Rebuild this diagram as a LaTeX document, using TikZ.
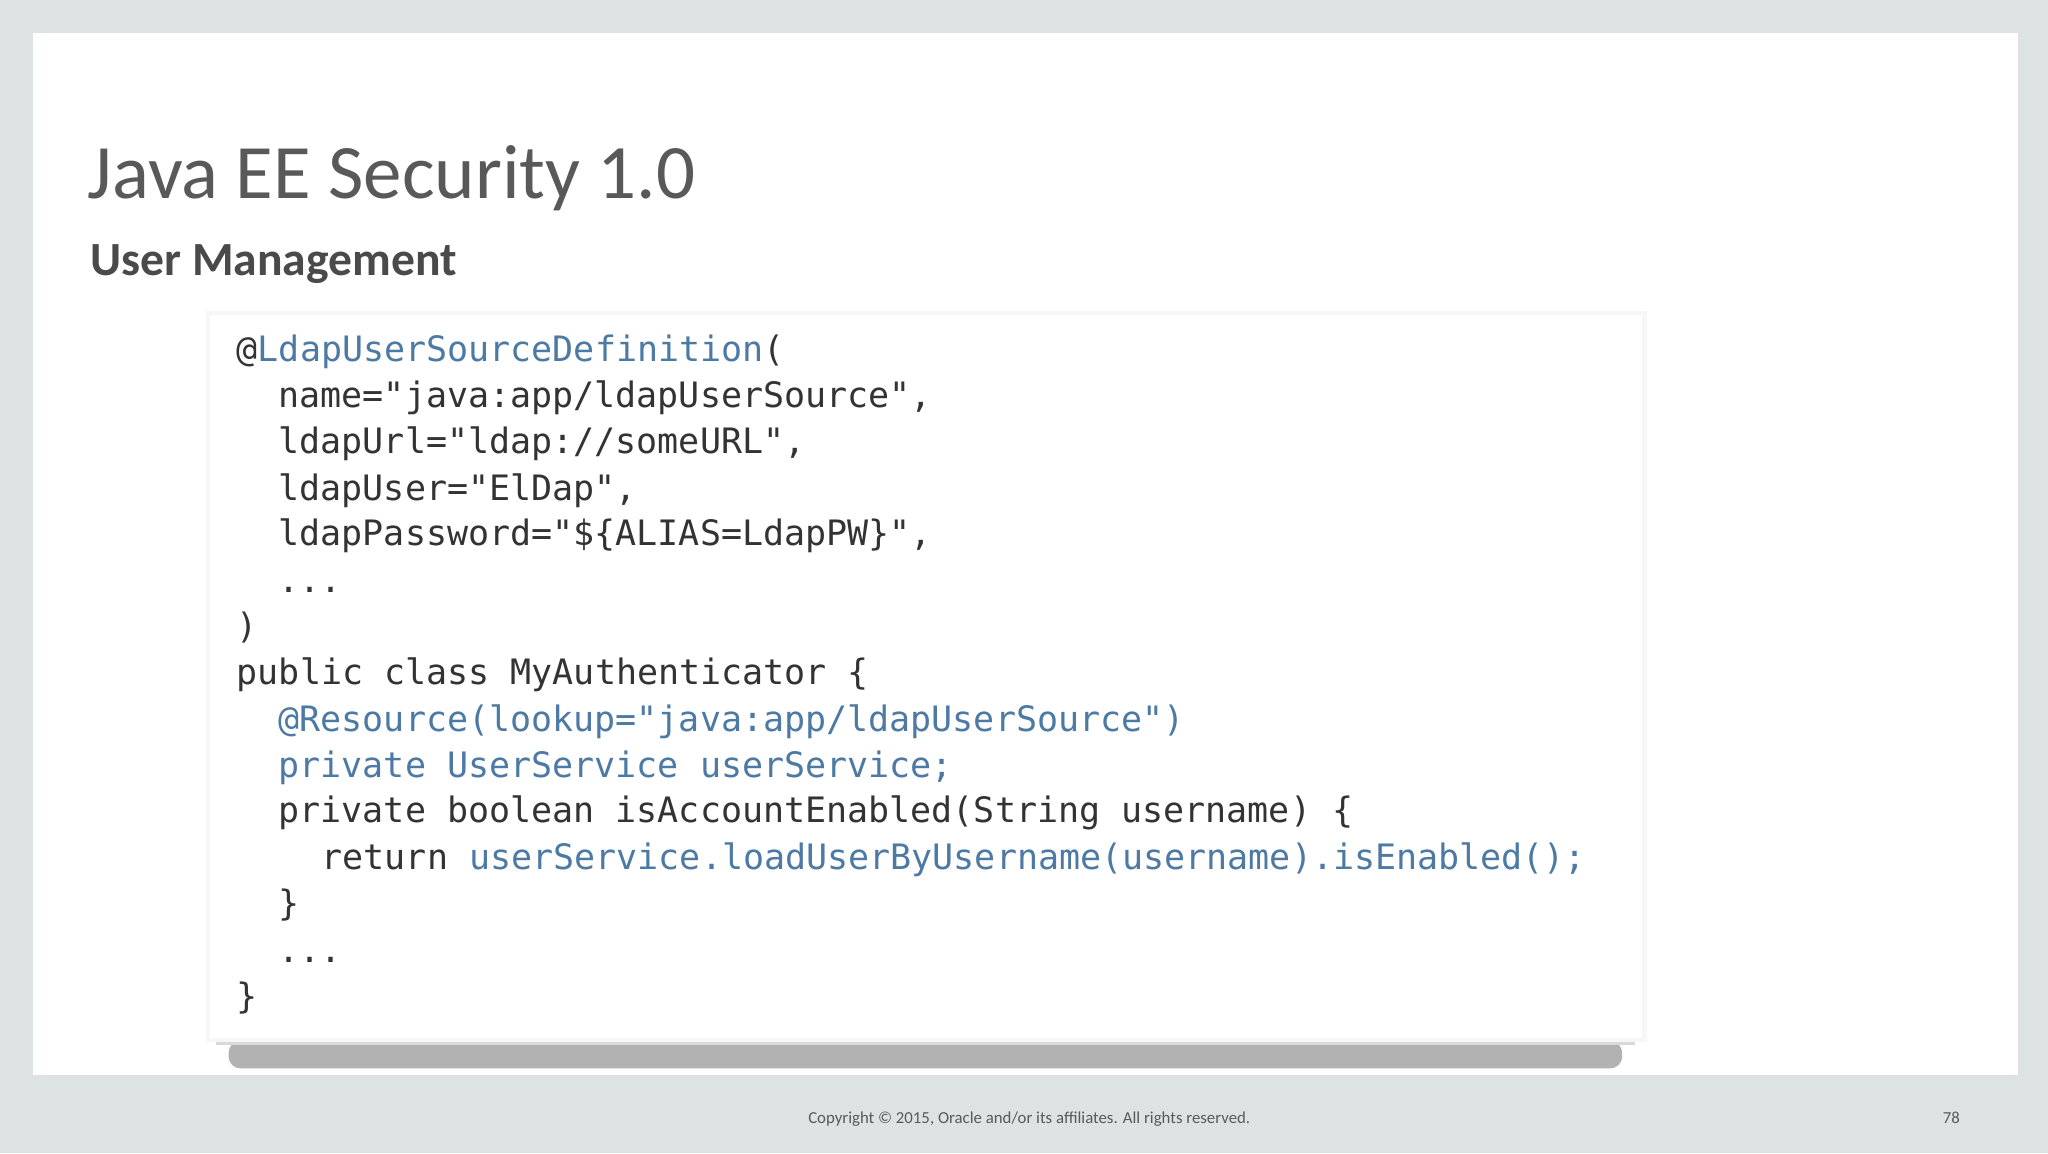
\documentclass[tikz,border=0pt]{standalone}
\usepackage{fontspec}
\setmainfont{Carlito}
\newfontfamily\codefont{DejaVu Sans Mono}
\definecolor{bg}{HTML}{DDE3E3}
\definecolor{ttl}{HTML}{595959}
\definecolor{sub}{HTML}{4A4A4A}
\definecolor{cblue}{HTML}{4C7AA5}
\definecolor{cdark}{HTML}{333333}
\begin{document}
\begin{tikzpicture}[x=0.653pt,y=-0.653pt,
  codeline/.style={anchor=base west,inner sep=0pt,font=\codefont\fontsize{17.5pt}{20pt}\selectfont,text=cdark}]
\fill[bg] (0,0) rectangle (1568,883);
\useasboundingbox (0,0) rectangle (1568,883);
\fill[white] (25,25) rectangle (1545,823);
\node[anchor=base west,inner sep=0pt,font=\fontsize{38.5pt}{44pt}\selectfont,text=ttl] (title) at (67,152) {Java EE Security 1.0};
\node[anchor=base west,inner sep=0pt,font=\bfseries\fontsize{23.8pt}{28pt}\selectfont,text=sub] (subt) at (69,211) {User Management};
% shadow
\fill[gray!60,rounded corners=6] (175,797) rectangle (1242,818);
\fill[gray!30] (165,793) rectangle (1252,800);
\fill[gray!6] (158,238) rectangle (1261,798);
\fill[white] (161,241) rectangle (1257,795);
\newcommand{\bl}[1]{\textcolor{cblue}{#1}}
\node[codeline] (l1) at (181,277) {@\bl{LdapUserSourceDefinition}(};
\node[codeline] (l2) at (213,312) {name="java:app/ldapUserSource",};
\node[codeline] (l3) at (213,347) {ldapUrl="ldap://someURL",};
\node[codeline] (l4) at (213,383) {ldapUser="ElDap",};
\node[codeline] (l5) at (213,418) {ldapPassword="\$\{ALIAS=LdapPW\}",};
\node[codeline] (l6) at (213,454) {...};
\node[codeline] (l7) at (181,489) {)};
\node[codeline] (l8) at (181,524) {public class MyAuthenticator \{};
\node[codeline] (l9) at (213,560) {\bl{@Resource(lookup="java:app/ldapUserSource")}};
\node[codeline] (l10) at (213,595) {\bl{private UserService userService;}};
\node[codeline] (l11) at (213,630) {private boolean isAccountEnabled(String username) \{};
\node[codeline] (l12) at (246,666) {return \bl{userService.loadUserByUsername(username).isEnabled();}};
\node[codeline] (l13) at (213,701) {\}};
\node[codeline] (l14) at (213,737) {...};
\node[codeline] (l15) at (181,772) {\}};
\node[anchor=base,inner sep=0pt,font=\fontsize{8.4pt}{10pt}\selectfont,text=ttl] (copy) at (788,860) {Copyright © 2015, Oracle and/or its affiliates. All rights reserved.};
\node[anchor=base,inner sep=0pt,font=\fontsize{8.4pt}{10pt}\selectfont,text=ttl] (pg) at (1494,860) {78};
\end{tikzpicture}
\end{document}
